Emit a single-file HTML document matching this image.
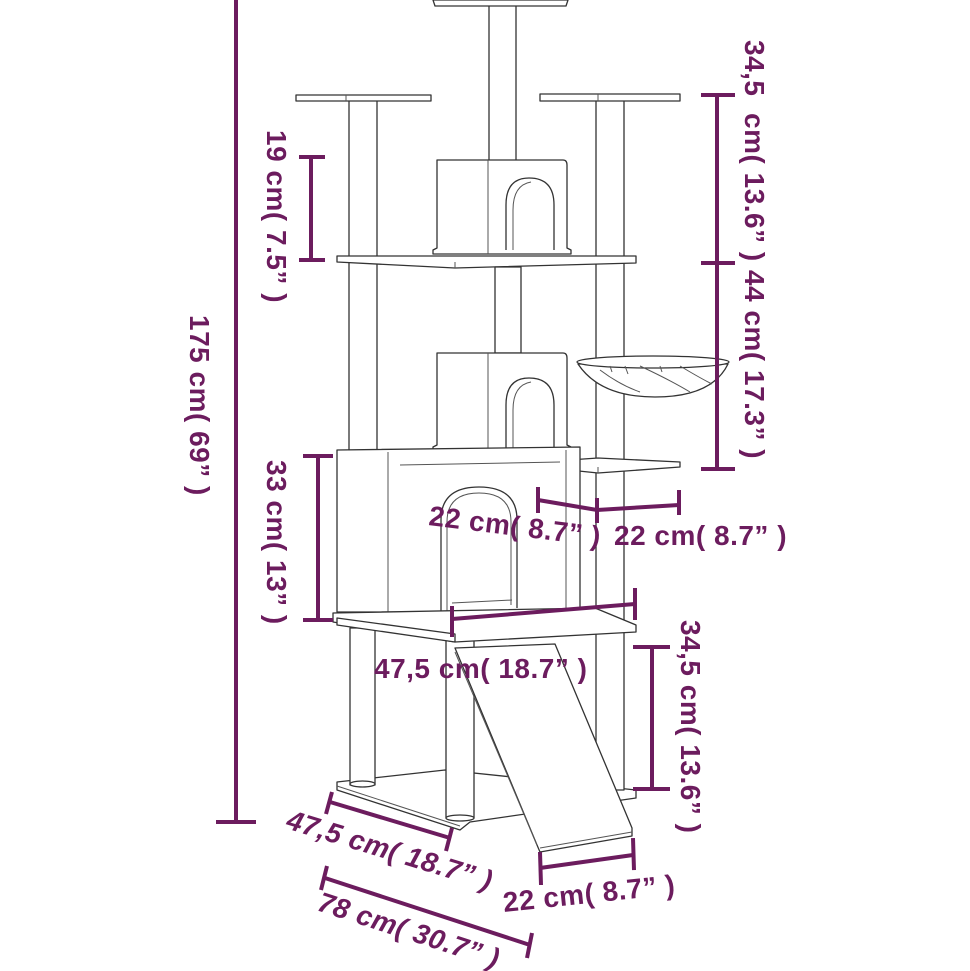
<!DOCTYPE html>
<html><head><meta charset="utf-8"><style>
html,body{margin:0;padding:0;background:#fff;}
svg{display:block;}
.t{font-family:"Liberation Sans",sans-serif;font-size:28px;font-weight:bold;fill:#6c1c5e;letter-spacing:0.5px;}
.d{stroke:#6c1c5e;stroke-width:4;fill:none;}
.o{stroke:#333;stroke-width:1.3;fill:#fff;stroke-linejoin:round;}
.l{stroke:#555;stroke-width:1;fill:none;}
</style></head><body>
<svg width="970" height="971" viewBox="0 0 970 971" xmlns="http://www.w3.org/2000/svg">
<!-- base -->
<polygon class="o" points="337,782 445,770 636,790 636,798 470,822 460,830 337,790"/>
<line class="l" x1="337" y1="786" x2="460" y2="826"/>
<!-- lower posts -->
<rect class="o" x="350" y="628" width="25" height="157"/>
<ellipse class="o" cx="362.5" cy="784" rx="12.5" ry="3"/>
<rect class="o" x="446" y="632" width="28" height="186"/>
<ellipse class="o" cx="460" cy="818" rx="14" ry="3"/>
<!-- right post -->
<rect class="o" x="596" y="98" width="28" height="692"/>
<!-- top central post -->
<rect class="o" x="489" y="0" width="27" height="162"/>
<polygon class="o" points="433,0 568,0 566,6 435,6"/>
<!-- left platform & post -->
<rect class="o" x="349" y="99" width="28" height="356"/>
<polygon class="o" points="296,95 431,95 431,101 296,101"/>
<line class="l" x1="346" y1="95" x2="346" y2="101"/>
<!-- right platform -->
<polygon class="o" points="540,94 680,94 680,101 540,101"/>
<line class="l" x1="598" y1="94" x2="598" y2="101"/>
<!-- upper house -->
<path class="o" d="M437,160 H563 Q567,160 567,165 V248 L571,250 V254 H433 V250 L437,248 Z"/>
<line class="l" x1="488" y1="160" x2="488" y2="254"/>
<path class="o" d="M506,250 V205 Q506,178 529,178 Q554,178 554,205 V250"/>
<path class="l" d="M513,250 V210 Q513,185 531,182"/>
<!-- middle shelf -->
<polygon class="o" points="337,256 636,256 636,263 455,268 337,262"/>
<line class="l" x1="455" y1="262" x2="455" y2="268"/>
<!-- center post middle -->
<rect class="o" x="495" y="267" width="26" height="86"/>
<!-- lower small house -->
<path class="o" d="M437,353 H563 Q567,353 567,358 V445 L571,447 V452 H433 V447 L437,445 Z"/>
<line class="l" x1="488" y1="353" x2="488" y2="452"/>
<path class="o" d="M506,448 V405 Q506,378 529,378 Q554,378 554,405 V448"/>
<path class="l" d="M513,448 V410 Q513,385 531,382"/>
<!-- basket -->
<path class="o" d="M578,364 Q600,397 655,397 Q712,397 728,364 Z"/>
<ellipse class="o" cx="653" cy="362" rx="76" ry="6"/>
<path class="l" d="M600,370 Q620,385 640,392 M640,366 Q670,380 690,392 M680,366 Q700,378 712,384 M610,366 l2,6 M625,366 l3,8 M660,366 l2,6"/>
<!-- small right platform -->
<polygon class="o" points="540,462 598,458 680,462 680,467 598,473 540,467"/>
<line class="l" x1="598" y1="467" x2="598" y2="473"/>
<!-- big box -->
<polygon class="o" points="337,450 580,447 580,612 337,612"/>
<line class="l" x1="388" y1="452" x2="388" y2="612"/>
<line class="l" x1="400" y1="465" x2="560" y2="462"/>
<line class="l" x1="566" y1="450" x2="566" y2="612"/>
<path class="o" d="M441,612 V520 Q441,487 479,487 Q517,487 517,520 V608"/>
<path class="l" d="M447,612 V522 Q447,493 479,493 Q511,493 511,522 V605"/>
<line class="l" x1="452" y1="603" x2="512" y2="600"/>
<!-- lower shelf -->
<polygon class="o" points="333,613 595,608 636,625 636,632 455,642 333,622"/>
<polygon class="o" points="337,618 455,634 455,642 337,625"/>
<!-- ramp -->
<polygon class="o" points="455,648 555,644 632,828 632,836 540,852 537,845"/>
<line class="l" x1="455" y1="652" x2="537" y2="845"/>
<line class="l" x1="540" y1="848" x2="632" y2="832"/>

<!-- dimension lines -->
<line class="d" x1="236" y1="0" x2="236" y2="822"/>
<line class="d" x1="216" y1="822" x2="256" y2="822"/>
<text class="t" transform="translate(190,315) rotate(90)">175 cm( 69” )</text>

<line class="d" x1="311" y1="157" x2="311" y2="260"/>
<line class="d" x1="299" y1="157" x2="325" y2="157"/>
<line class="d" x1="299" y1="260" x2="325" y2="260"/>
<text class="t" transform="translate(267,130) rotate(90)">19 cm( 7.5” )</text>

<line class="d" x1="318" y1="456" x2="318" y2="620"/>
<line class="d" x1="303" y1="456" x2="333" y2="456"/>
<line class="d" x1="303" y1="620" x2="333" y2="620"/>
<text class="t" transform="translate(267,460) rotate(90)">33 cm( 13” )</text>

<line class="d" x1="717" y1="95" x2="717" y2="469"/>
<line class="d" x1="701" y1="95" x2="735" y2="95"/>
<line class="d" x1="701" y1="263" x2="735" y2="263"/>
<line class="d" x1="701" y1="469" x2="735" y2="469"/>
<text class="t" transform="translate(745,40) rotate(90)" xml:space="preserve">34,5  cm( 13.6” ) 44 cm( 17.3” )</text>

<polyline class="d" points="538,500 597,510 679,505"/>
<line class="d" x1="538" y1="487" x2="538" y2="513"/>
<line class="d" x1="597" y1="498" x2="597" y2="523"/>
<line class="d" x1="679" y1="490" x2="679" y2="515"/>
<text class="t" transform="translate(428,525) rotate(7)">22 cm( 8.7” )</text>
<text class="t" x="614" y="545">22 cm( 8.7” )</text>

<line class="d" x1="452" y1="619" x2="635" y2="604"/>
<line class="d" x1="452" y1="606" x2="452" y2="637"/>
<line class="d" x1="635" y1="588" x2="635" y2="620"/>
<text class="t" x="374" y="678">47,5 cm( 18.7” )</text>

<line class="d" x1="652" y1="647" x2="652" y2="789"/>
<line class="d" x1="633" y1="647" x2="670" y2="647"/>
<line class="d" x1="633" y1="789" x2="670" y2="789"/>
<text class="t" transform="translate(681,620) rotate(90)">34,5 cm( 13.6” )</text>

<line class="d" x1="330" y1="802" x2="450" y2="838"/>
<line class="d" x1="332" y1="792" x2="326" y2="814"/>
<line class="d" x1="452" y1="828" x2="446" y2="851"/>
<text class="t" font-style="italic" transform="translate(285,828) rotate(17)">47,5 cm( 18.7” )</text>

<line class="d" x1="540" y1="868" x2="633" y2="855"/>
<line class="d" x1="540" y1="852" x2="541" y2="885"/>
<line class="d" x1="633" y1="838" x2="634" y2="870"/>
<text class="t" transform="translate(504,912) rotate(-6)">22 cm( 8.7” )</text>

<line class="d" x1="325" y1="878" x2="530" y2="945"/>
<line class="d" x1="327" y1="866" x2="321" y2="890"/>
<line class="d" x1="532" y1="933" x2="527" y2="958"/>
<text class="t" font-style="italic" transform="translate(316,910) rotate(18)">78 cm( 30.7” )</text>
</svg>
</body></html>
